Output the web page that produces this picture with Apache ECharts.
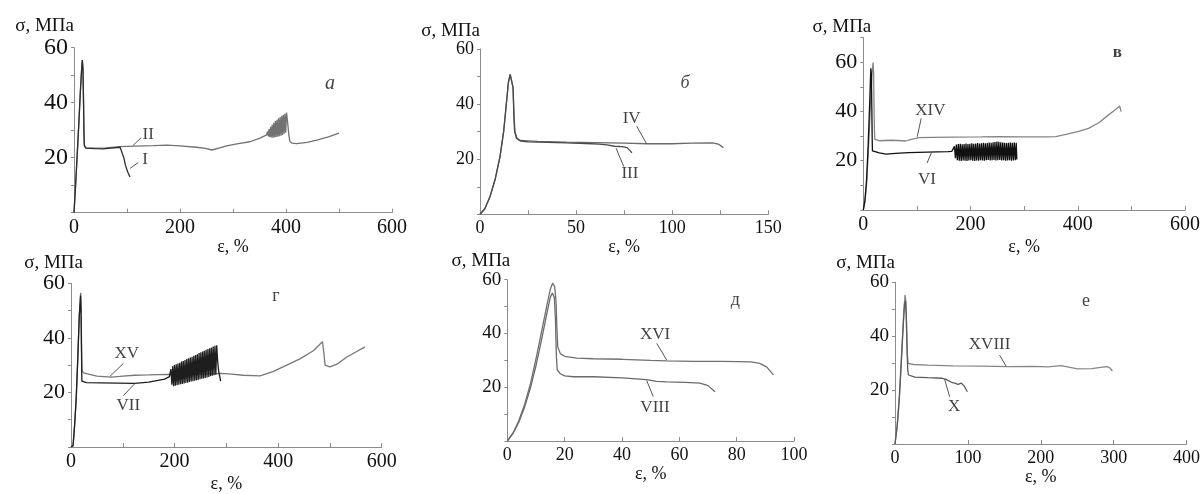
<!DOCTYPE html>
<html>
<head>
<meta charset="utf-8">
<script src="https://cdn.jsdelivr.net/npm/echarts@6/dist/echarts.min.js"></script>
<style>
  html, body { margin: 0; padding: 0; background: #fff; }
  #chart { width: 1203px; height: 494px; }
</style>
</head>
<body>
<div id="chart"></div>
<script>
// ---- panel а ----
var curveI = [[0,0],[3,10],[6,21],[9,32],[12,44],[14.5,52.5],[15.7,55.5],[17,52],[18,40],[18.7,30],[19.5,24.5],[22,23.5],[40,23.3],[55,23.2],[70,23.5],[87,23.8],[90,23.3],[94,20],[97,17.3],[101,15],[105.6,13]];
var curveII = [[0,0],[3,10],[6,21],[9,32],[12,44],[14.5,52.5],[15.7,55.5],[17,52],[18,40],[18.7,30],[19.5,24.5],[22,23.6],[40,23.5],[60,23.6],[87,24],[115,24.2],[150,24.4],[175,24.6],[200,24.3],[231,23.8],[248,23.4],[260,22.8],[275,23.6],[288,24.3],[310,25.1],[332,25.8],[350,27],[363.5,28.3],
  [365,29.6],[366.5,27.7],[368,30.4],[369.5,27.5],[371,31.2],[372.5,27.4],[374,32],[375.5,27.3],[377,32.7],[378.5,27.4],[380,33.3],[381.5,27.5],[383,33.8],[384.5,27.6],[386,34.3],[387.5,27.8],[389,34.8],[390.5,28],[392,35.2],[393.5,28.3],[395,35.6],[396.5,28.7],[398,36],[399.5,29.2],[401,36.4],
  [403,33],[405.5,28],[407.5,25.8],[412,25.3],[420,25.1],[440,25.6],[460,26.5],[480,27.6],[500,28.9]];
var labelsA = [['II',140,28.6],['I',134,19.2]];
var leadersA = [[[127,27.3],[111,24.4]],[[121,18.2],[105.7,16.1]]];

// ---- panel б ----
var curveIII = [[0,0],[2.5,2],[5.2,6.4],[8,13],[10.4,20.9],[12.3,30],[13.9,41.5],[14.8,48],[15.7,50.8],[16.5,50.5],[17.2,46],[17.6,36],[18,30],[19,27.5],[21,26.6],[25,26.3],[35,26.1],[45,25.9],[55,25.7],[62,25.5],[66,25.2],[70,24.7],[74,24.6],[76.5,24.2],[78,23.2],[79,22.3]];
var curveIV = [[0,0],[2.5,2],[5.2,6.4],[8,13],[10.4,20.9],[12.3,30],[13.9,41.5],[14.8,48],[15.7,50.8],[16.5,50.5],[17.2,46],[17.7,36],[18.2,30],[19.2,27.7],[21,26.8],[30,26.5],[45,26.2],[60,26],[75,25.8],[87,25.6],[100,25.6],[110,25.8],[121,25.9],[124,25.5],[126.6,24.2]];
var labelsB = [['IV',78.9,34.6],['III',78,14.9]];
var leadersB = [[[81.5,32],[86.7,25.6]],[[74.8,17.3],[70.8,24]]];

// ---- panel в ----
var curveXIV = [[0,0],[3,3],[6,10],[9,22],[12,36],[14.5,48],[16.5,56],[18.3,59.8],[19.3,55],[20,42],[20.8,32],[21.4,28.7],[25,28.2],[30.5,28.1],[50,28.3],[65,28.2],[79,28],[90,28.7],[103.6,29.4],[130,29.5],[170,29.6],[220,29.7],[250,29.8],[300,29.7],[340,29.7],[359,29.8],[380,30.8],[400,31.8],[420,33.1],[440,35.5],[456.8,38.5],[470,40.7],[478,42.2],[481,39.9]];
var curveVI = [[0,0],[3,4],[6,12],[9,26],[12,44],[14,57.5],[15,55],[16,40],[16.5,30],[17,24],[20,23.4],[30,23.2],[42.7,22.7],[60,23],[85,23.3],[120,23.5],[158,23.7],[165,23.8],[168,24.5],
  [170,25.8],[171.8,21],[173.6,26.6],[175.4,20.2],[177.2,26.8],[179,20],[180.8,26.9],[182.6,19.9],[184.4,26.7],[186.2,20.1],[188,26.8],[189.8,20],[191.6,27],[193.4,19.9],[195.2,26.8],[197,20.1],[198.8,26.9],[200.6,20.2],
  [202.4,27.1],[204.2,20],[206,26.9],[207.8,19.9],[209.6,27],[211.4,20.1],[213.2,27.2],[215,20],[216.8,27],[218.6,20.2],[220.4,27.1],[222.2,20.1],[224,27.3],[225.8,20],[227.6,27.1],[229.4,20.2],[231.2,27.2],[233,20.3],
  [234.8,27.4],[236.6,20.1],[238.4,27.3],[240.2,20.2],[242,27.5],[243.8,20.3],[245.6,27.6],[247.4,20.1],[249.2,27.8],[251,20.2],[252.8,27.7],[254.6,20.3],[256.4,27.5],[258.2,20.1],[260,27.4],[261.8,20.2],[263.6,27.3],
  [265.4,20],[267.2,27.2],[269,20.1],[270.8,27.3],[272.6,20.2],[274.4,27.4],[276.2,20],[278,27.3],[279.8,20.1],[281.6,27.4],[283.4,20.2],[285.2,27.3],[286.3,20.5]];
var labelsC = [['XIV',125,40.2],['VI',118.8,12.5]];
var leadersC = [[[108,37.2],[100.5,29.7]],[[118.8,19],[128,23.7]]];

// ---- panel г ----
var curveXV = [[0,0],[4,0.5],[7,8],[10,17.6],[13,32],[16,48],[18.7,56.5],[19.7,50],[20.3,38],[21,28.2],[24,27.2],[26.4,26.8],[50,26],[78,25.6],[100,26],[123,26.3],[150,26.4],[187,26.6],[220,26.5],[250,26.7],[290,27],[310,26.7],[333,26.3],[365,26.1],[390,27.6],[416.6,30],[442,32.3],[468,35.3],[485.6,38.6],[488,35],[490.6,30],[500,29.4],[515,30.5],[532,32.9],[550,34.8],[567.8,36.7]];
var curveVII = [[0,0],[4,0.5],[7,8],[10,17.6],[13,32],[16,48],[18.5,55.5],[19.5,48],[20.3,35],[21,24.1],[30,23.6],[58.6,23.5],[90,23.4],[123,23.3],[150,23.8],[181,24.9],[190,25.8],
  [193,28.5],[194.7,22.8],[196.4,29.6],[198.1,22.3],[199.8,30],[201.5,22.5],[203.2,30.3],[204.9,22.6],[206.6,30.6],[208.3,22.8],[210,30.9],[211.7,23],[213.4,31.3],[215.1,23.1],[216.8,31.5],[218.5,23.3],
  [220.2,31.9],[221.9,23.5],[223.6,32.2],[225.3,23.6],[227,32.5],[228.7,23.8],[230.4,32.8],[232.1,24],[233.8,33.1],[235.5,24.1],[237.2,33.4],[238.9,24.3],[240.6,33.7],[242.3,24.5],[244,34],[245.7,24.6],
  [247.4,34.4],[249.1,24.8],[250.8,34.7],[252.5,25],[254.2,35],[255.9,25.1],[257.6,35.3],[259.3,25.3],[261,35.6],[262.7,25.5],[264.4,35.9],[266.1,25.7],[267.8,36.2],[269.5,25.9],[271.2,36.5],[272.9,26.1],
  [274.6,36.8],[276.3,26.3],[278,37.1],[279.7,26.5],[281.4,37.3],[283,32],[285,28],[289,24.1]];
var labelsD = [['XV',107.5,34.3],['VII',110.7,15.3]];
var leadersD = [[[101,30.6],[75.3,25.9]],[[101,18.8],[123.6,23.3]]];

// ---- panel д ----
var curveXVI = [[0,0],[2,3],[4,7.5],[6,13.5],[8,21],[10,30.5],[12,41],[14,51.5],[15,56.5],[15.8,58.7],[16.5,57.5],[17,52],[17.3,42],[17.6,35],[18.5,32.5],[20,31.5],[24.2,30.8],[30,30.6],[40,30.4],[50,30],[55.6,29.8],[65,29.6],[75,29.6],[85,29.4],[88,28.9],[90.5,27.5],[92.8,24.6]];
var curveVIII = [[0,0],[2,2.8],[4,7],[6,12.5],[8,19.5],[10,28],[12,38],[14,48.5],[15,53.5],[15.7,55],[16.4,53.5],[16.8,45],[17.1,32],[17.4,26.5],[18.5,25],[20,24.2],[23,23.9],[30,23.9],[40,23.5],[48.6,22.8],[52,22.2],[55.6,22],[62,21.8],[67.2,21.5],[70,20.6],[72.4,18.3]];
var labelsE = [['XVI',51.5,39.7],['VIII',51.5,12.4]];
var leadersE = [[[52.1,36.3],[55.6,30.1]],[[50.9,16.5],[48.6,22.5]]];

// ---- panel е ----
var curveXVIII = [[0,0],[3,7],[6,18],[9,33],[11.5,46],[13.7,55.3],[15,53],[16,42],[17,33],[18,29.9],[25,29.5],[45.5,29.3],[80,29],[120,28.9],[155,28.7],[190,28.8],[210,28.6],[228,29.1],[240,28.4],[250.6,27.9],[270,28],[285,28.5],[291.5,28.7],[295,28.2],[298.3,27.1]];
var curveX = [[0,0],[3,6.5],[6,17],[9,32],[11.5,45],[13,52],[14.3,53],[15.5,48],[16.5,35],[17.5,27.5],[18.5,25.6],[27.3,24.8],[45,24.6],[63.8,24.4],[70,24],[77.5,22.9],[82,22.6],[86.5,22.1],[91,22.6],[95,21.5],[99.3,19.4]];
var labelsF = [['XVIII',129.8,37],['X',81,13.8]];
var leadersF = [[[143.5,33],[152.6,28.8]],[[75,17.5],[68,24.1]]];

var panelLetters = [['а',483,47],['б',106.7,47.6],['в',474,63.7],['г',395.8,55.2],['д',79.5,52.5],['е',262,53]];

var FONT = 'Liberation Serif';

var panels = [
  {grid:{left:74,top:47.7,width:318,height:165}, xMax:600, xInt:100, xStep:200, yMax:60, xfs:20, yfs:24, yGap:10, yShift:0, xGap:24,
   curves:[[curveII,'#727272'],[curveI,'#2e2e2e']], labels:labelsA, leaders:leadersA, letter:{size:20, style:'italic', weight:'normal'}},
  {grid:{left:480,top:49,width:288.3,height:165.3}, xMax:150, xInt:25, xStep:50, yMax:60, xfs:18, yfs:18, yGap:8, yShift:0, xGap:22,
   curves:[[curveIV,'#6a6a6a'],[curveIII,'#4a4a4a']], labels:labelsB, leaders:leadersB, letter:{size:18, style:'italic', weight:'normal'}},
  {grid:{left:863.3,top:37.5,width:328.4,height:172.5}, xMax:600, xInt:100, xStep:200, yMax:70, xfs:20, yfs:22, yGap:1, yShift:8, xGap:28,
   curves:[[curveXIV,'#858585'],[curveVI,'#111111']], labels:labelsC, leaders:leadersC, letter:{size:17, style:'normal', weight:'bold'}},
  {grid:{left:71,top:283.3,width:310.7,height:170}, xMax:600, xInt:100, xStep:200, yMax:60, xfs:20, yfs:22, yGap:7, yShift:12, xGap:28,
   curves:[[curveXV,'#777777'],[curveVII,'#1e1e1e']], labels:labelsD, leaders:leadersD, letter:{size:18, style:'normal', weight:'normal'}},
  {grid:{left:507.3,top:279.7,width:286.8,height:161.3}, xMax:100, xInt:20, xStep:20, yMax:60, xfs:18, yfs:19, yGap:7, yShift:3, xGap:24,
   curves:[[curveXVI,'#707070'],[curveVIII,'#6a6a6a']], labels:labelsE, leaders:leadersE, letter:{size:18, style:'normal', weight:'normal'}},
  {grid:{left:895,top:282.3,width:292.7,height:161.7}, xMax:400, xInt:100, xStep:100, yMax:60, xfs:18, yfs:19, yGap:4, yShift:0, xGap:22,
   curves:[[curveXVIII,'#868686'],[curveX,'#5a5a5a']], labels:labelsF, leaders:leadersF, letter:{size:18, style:'normal', weight:'normal'}}
];

var grids = [], xAxes = [], yAxes = [], series = [];
panels.forEach(function (p, i) {
  grids.push(p.grid);
  xAxes.push({
    gridIndex: i, type: 'value', min: 0, max: p.xMax, interval: p.xInt,
    name: 'ε, %', nameLocation: 'middle', nameGap: p.xGap,
    nameTextStyle: {fontFamily: FONT, fontSize: 18, color: '#111', verticalAlign: 'top'},
    axisLine: {lineStyle: {color: '#8c8c8c', width: 1}},
    axisTick: {inside: true, length: 4, lineStyle: {color: '#8c8c8c'}},
    axisLabel: {fontFamily: FONT, fontSize: p.xfs, color: '#111', margin: 5,
      formatter: function (v) { return v % p.xStep === 0 ? String(v) : ''; }},
    splitLine: {show: false}
  });
  yAxes.push({
    gridIndex: i, type: 'value', min: 0, max: p.yMax, interval: 10,
    name: 'σ, МПа', nameLocation: 'end', nameGap: p.yGap,
    nameTextStyle: {fontFamily: FONT, fontSize: 19, color: '#111', align: 'right', padding: [0, -p.yShift, 0, 0]},
    axisLine: {show: true, lineStyle: {color: '#8c8c8c', width: 1}},
    axisTick: {show: true, inside: false, length: 3, lineStyle: {color: '#8c8c8c'}},
    axisLabel: {fontFamily: FONT, fontSize: p.yfs, color: '#111', margin: 6,
      formatter: function (v) { return (v > 0 && v % 20 === 0) ? String(v) : ''; }},
    splitLine: {show: false}
  });
  p.curves.forEach(function (c) {
    series.push({type: 'line', xAxisIndex: i, yAxisIndex: i, data: c[0], showSymbol: false, silent: true,
      lineStyle: {color: c[1], width: 1.3}, z: 3});
  });
  p.leaders.forEach(function (l) {
    series.push({type: 'line', xAxisIndex: i, yAxisIndex: i, data: l, showSymbol: false, silent: true,
      lineStyle: {color: '#555', width: 1}, z: 4});
  });
  series.push({type: 'scatter', xAxisIndex: i, yAxisIndex: i, symbolSize: 0, silent: true, z: 5,
    data: p.labels.map(function (t) {
      return {value: [t[1], t[2]], label: {show: true, position: 'inside', formatter: t[0],
        fontFamily: FONT, fontSize: 17, color: '#111'}};
    })});
  var L = panelLetters[i];
  series.push({type: 'scatter', xAxisIndex: i, yAxisIndex: i, symbolSize: 0, silent: true, z: 5,
    data: [{value: [L[1], L[2]], label: {show: true, position: 'inside', formatter: L[0],
      fontFamily: FONT, fontSize: p.letter.size, fontStyle: p.letter.style, fontWeight: p.letter.weight, color: '#111'}}]});
});

var chart = echarts.init(document.getElementById('chart'));
chart.setOption({
  backgroundColor: '#ffffff',
  animation: false,
  grid: grids,
  xAxis: xAxes,
  yAxis: yAxes,
  series: series
});
</script>
</body>
</html>
